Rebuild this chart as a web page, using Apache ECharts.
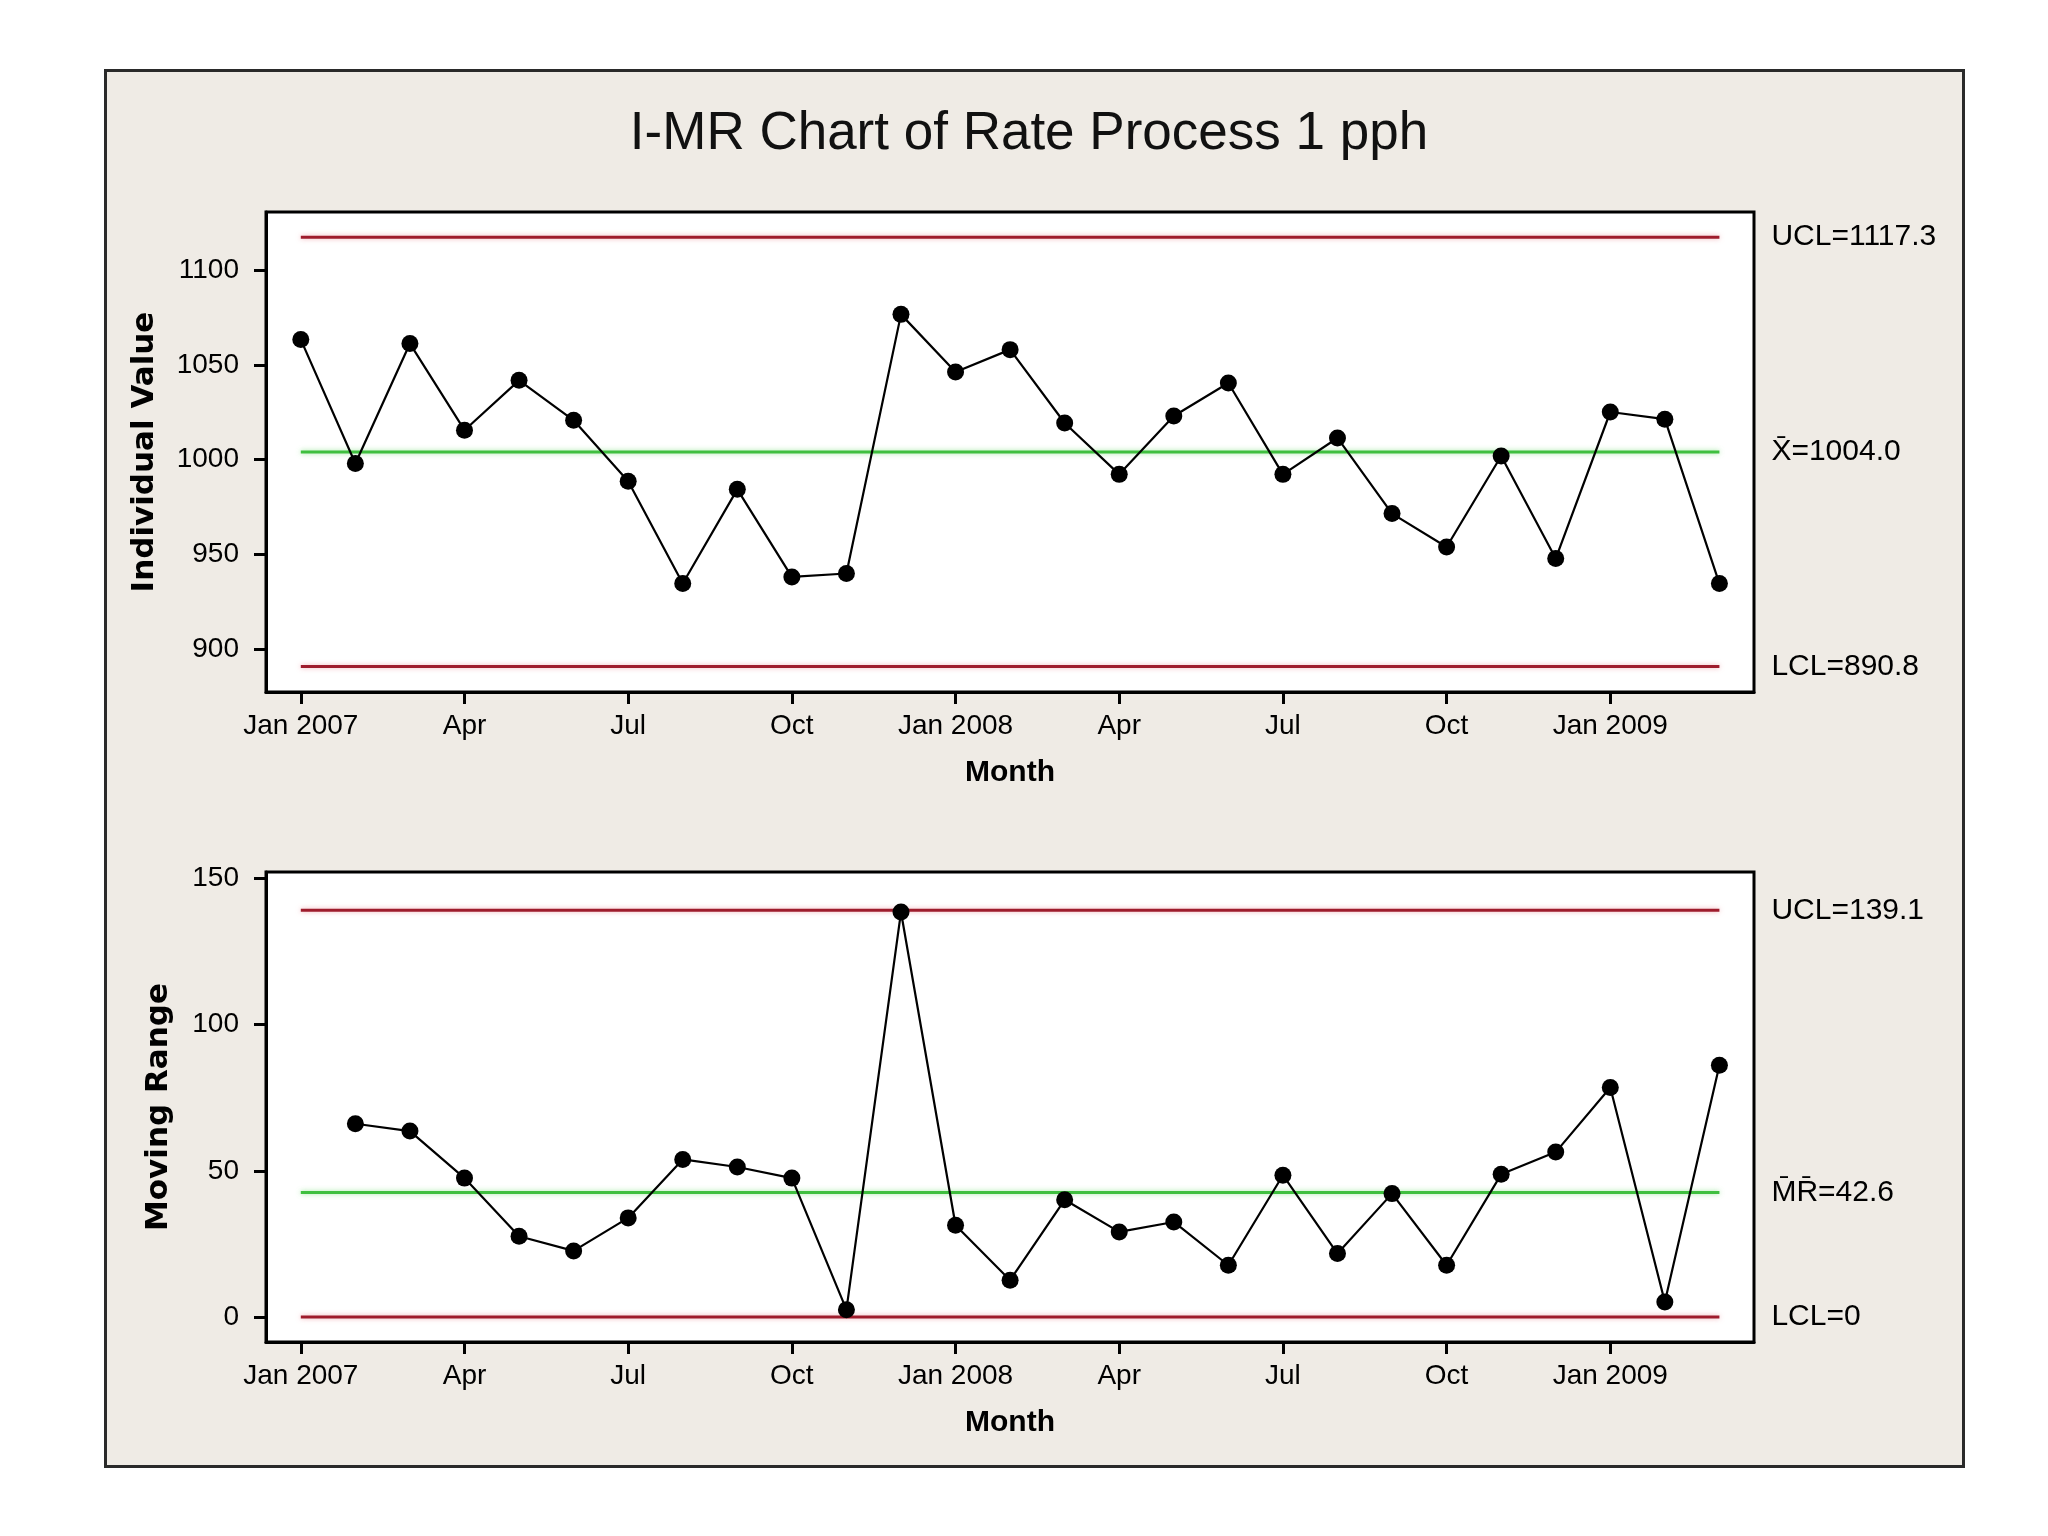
<!DOCTYPE html>
<html><head><meta charset="utf-8">
<script src="https://cdn.jsdelivr.net/npm/echarts@6/dist/echarts.min.js"></script>
<style>
html,body{margin:0;padding:0;background:#fff;}
#frame{position:absolute;left:104px;top:69px;width:1855px;height:1393px;background:#efebe5;border:3px solid #2a2a2a;}
#c{position:absolute;left:0;top:0;width:2048px;height:1536px;}
</style>
</head><body><div id="frame"></div><div id="c"></div>
<script>
const months = ['Jan 2007','Feb 2007','Mar 2007','Apr 2007','May 2007','Jun 2007','Jul 2007','Aug 2007','Sep 2007','Oct 2007','Nov 2007','Dec 2007',
  'Jan 2008','Feb 2008','Mar 2008','Apr 2008','May 2008','Jun 2008','Jul 2008','Aug 2008','Sep 2008','Oct 2008','Nov 2008','Dec 2008',
  'Jan 2009','Feb 2009','Mar 2009'];
const individualValues = [1063.3, 997.9, 1061.2, 1015.5, 1041.8, 1020.7, 988.6, 934.6, 984.3, 938.1, 939.9, 1076.6,
  1046.2, 1058.0, 1019.3, 992.2, 1023.0, 1040.4, 992.2, 1011.4, 971.5, 953.9, 1001.9, 947.8, 1025.1, 1021.3, 934.6];
const movingRanges = [null, 66.1, 63.6, 47.5, 27.6, 22.6, 33.9, 53.9, 51.3, 47.5, 2.5, 138.5,
  31.4, 12.6, 40.1, 29.1, 32.5, 17.7, 48.5, 21.7, 42.2, 17.7, 48.8, 56.4, 78.5, 5.1, 86.1];
const tickMonthIndex = [1, 4, 7, 10, 13, 16, 19, 22, 25];
const tickLabels = ['Jan 2007','Apr','Jul','Oct','Jan 2008','Apr','Jul','Oct','Jan 2009'];
const iTicks = [900, 950, 1000, 1050, 1100];
const mrTicks = [0, 50, 100, 150];
const iLimits = {ucl: 1117.3, center: 1004.0, lcl: 890.8};
const mrLimits = {ucl: 139.1, center: 42.6, lcl: 0};
const iLimitLabels = {ucl: 'UCL=1117.3', center: 'X\u0304=1004.0', lcl: 'LCL=890.8'};
const mrLimitLabels = {ucl: 'UCL=139.1', center: 'M\u0304R\u0304=42.6', lcl: 'LCL=0'};

const FONT = 'Liberation Sans, Arial, sans-serif';
const RED = '#9e1c2c', GREEN = '#3fbf3f';
const n = months.length;

function xAxisCfg(gridIndex){
  return {
    type:'value', gridIndex, min:0.362, max:27.634,
    axisLine:{show:true, onZero:false, lineStyle:{color:'#000', width:3}},
    axisTick:{show:true, customValues:tickMonthIndex, length:12, lineStyle:{color:'#000', width:3}},
    axisLabel:{customValues:tickMonthIndex, margin:20, fontSize:28, fontFamily:FONT, color:'#000',
      formatter:(v)=>tickLabels[tickMonthIndex.indexOf(Math.round(v))] || ''},
    splitLine:{show:false},
    name:'Month', nameLocation:'middle', nameGap:66,
    nameTextStyle:{fontSize:30, fontWeight:'bold', fontFamily:FONT, color:'#000'}
  };
}
function yAxisCfg(gridIndex, min, max, ticks, name, nameGap){
  return {
    type:'value', gridIndex, min, max,
    axisLine:{show:true, lineStyle:{color:'#000', width:3}},
    axisTick:{show:true, customValues:ticks, length:12, lineStyle:{color:'#000', width:3}},
    axisLabel:{customValues:ticks, margin:27, fontSize:28, fontFamily:FONT, color:'#000',
      formatter:(v)=>String(Math.round(v))},
    splitLine:{show:false},
    name, nameLocation:'middle', nameGap,
    nameTextStyle:{fontSize:31, fontWeight:'bold', fontFamily:'DejaVu Sans, sans-serif', color:'#000'}
  };
}
function limitSeries(idx, value, color, label){
  return {
    type:'line', xAxisIndex:idx, yAxisIndex:idx, z:1, silent:true,
    data:[[1, value],[n, value]], symbol:'none',
    lineStyle:{color, width:3, shadowBlur:5, shadowColor: color===RED ? 'rgba(230,120,130,0.6)' : 'rgba(120,220,120,0.7)'},
    endLabel:{show:true, distance:52, formatter:()=>label, fontSize:30, fontFamily:FONT, color:'#000'}
  };
}
function dataSeries(idx, values){
  return {
    type:'line', xAxisIndex:idx, yAxisIndex:idx, z:5,
    data: values.map((v,i)=>[i+1, v]).filter(d=>d[1]!==null),
    symbol:'circle', symbolSize:17,
    itemStyle:{color:'#000'}, lineStyle:{color:'#000', width:2.2}
  };
}

const chart = echarts.init(document.getElementById('c'));
chart.setOption({
  animation:false,
  backgroundColor:'transparent',
  title:{text:'I-MR Chart of Rate Process 1 pph', left:1024, textAlign:'center', top:103,
    textStyle:{fontSize:53, fontWeight:'normal', fontFamily:FONT, color:'#111'}},
  grid:[
    {left:266, top:212, width:1488, height:480, show:true, backgroundColor:'#fff', borderColor:'#000', borderWidth:3},
    {left:266, top:872, width:1488, height:470, show:true, backgroundColor:'#fff', borderColor:'#000', borderWidth:3}
  ],
  xAxis:[xAxisCfg(0), xAxisCfg(1)],
  yAxis:[
    yAxisCfg(0, 877.4, 1130.6, iTicks, 'Individual Value', 106),
    yAxisCfg(1, -8.55, 152.2, mrTicks, 'Moving Range', 92)
  ],
  series:[
    limitSeries(0, iLimits.ucl, RED, iLimitLabels.ucl),
    limitSeries(0, iLimits.center, GREEN, iLimitLabels.center),
    limitSeries(0, iLimits.lcl, RED, iLimitLabels.lcl),
    dataSeries(0, individualValues),
    limitSeries(1, mrLimits.ucl, RED, mrLimitLabels.ucl),
    limitSeries(1, mrLimits.center, GREEN, mrLimitLabels.center),
    limitSeries(1, mrLimits.lcl, RED, mrLimitLabels.lcl),
    dataSeries(1, movingRanges)
  ]
});
</script>
</body></html>
